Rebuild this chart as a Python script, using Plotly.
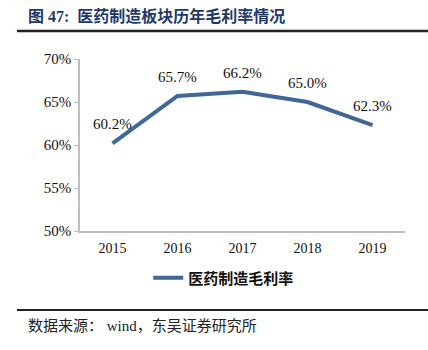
import plotly.graph_objects as go

years = ["2015", "2016", "2017", "2018", "2019"]
margin_pct = [60.2, 65.7, 66.2, 65.0, 62.3]
labels = [f"{v:.1f}%" for v in margin_pct]
y_ticks = [50, 55, 60, 65, 70]
y_tick_text = [f"{v}%" for v in y_ticks]

serif = "Liberation Serif, Times New Roman, serif"
cjk = "Noto Sans CJK SC"

fig = go.Figure()
fig.add_trace(go.Scatter(
    x=years, y=margin_pct, mode="lines", name="<b>医药制造毛利率</b>",
    line=dict(color="#3f6797", width=4),
    cliponaxis=False,
))

annotations = [
    dict(x=i, y=v, text=t, xref="x", yref="y", showarrow=False,
         yshift=19, yanchor="middle",
         font=dict(family=serif, size=15, color="#111111"))
    for i, (v, t) in enumerate(zip(margin_pct, labels))
]
annotations += [
    dict(text="<b>图 47:  医药制造板块历年毛利率情况</b>", xref="paper", yref="paper",
         x=-0.166, y=1.25, yanchor="middle", xanchor="left",
         showarrow=False,
         font=dict(family=serif + ", " + cjk, size=16, color="#1f3a68")),
    dict(text="数据来源： wind，东吴证券研究所", xref="paper", yref="paper",
         x=-0.166, y=-0.552, xanchor="left", yanchor="middle",
         showarrow=False,
         font=dict(family=serif + ", " + cjk, size=15, color="#222222")),
]

fig.update_layout(
    width=428, height=350,
    margin=dict(l=80, r=23, t=59, b=119),
    paper_bgcolor="white", plot_bgcolor="white",
    showlegend=True,
    legend=dict(orientation="h", x=0.21, xanchor="left", y=-0.273, yanchor="middle",
                font=dict(family=cjk, size=15, color="#111111"),
                itemwidth=30),
    xaxis=dict(type="category", range=[-0.5, 4.5], showgrid=False,
               showline=True, linecolor="#bfbfbf", linewidth=1.5,
               ticks="outside", ticklen=3, tickcolor="rgba(0,0,0,0)",
               tickfont=dict(family=serif, size=14, color="#111111")),
    yaxis=dict(range=[50, 70], tickvals=y_ticks, ticktext=y_tick_text,
               showgrid=False, zeroline=False,
               showline=True, linecolor="#bfbfbf", linewidth=1.5,
               ticks="outside", ticklen=4, tickcolor="#bfbfbf",
               tickfont=dict(family=serif, size=15, color="#111111")),
    annotations=annotations,
    shapes=[
        dict(type="line", xref="paper", yref="paper", x0=-0.194, x1=1.071,
             y0=1.163, y1=1.163, line=dict(color="#222222", width=2.5)),
        dict(type="line", xref="paper", yref="paper", x0=-0.194, x1=1.071,
             y0=-0.459, y1=-0.459, line=dict(color="#222222", width=2)),
    ],
)

fig.write_html("out.html")
